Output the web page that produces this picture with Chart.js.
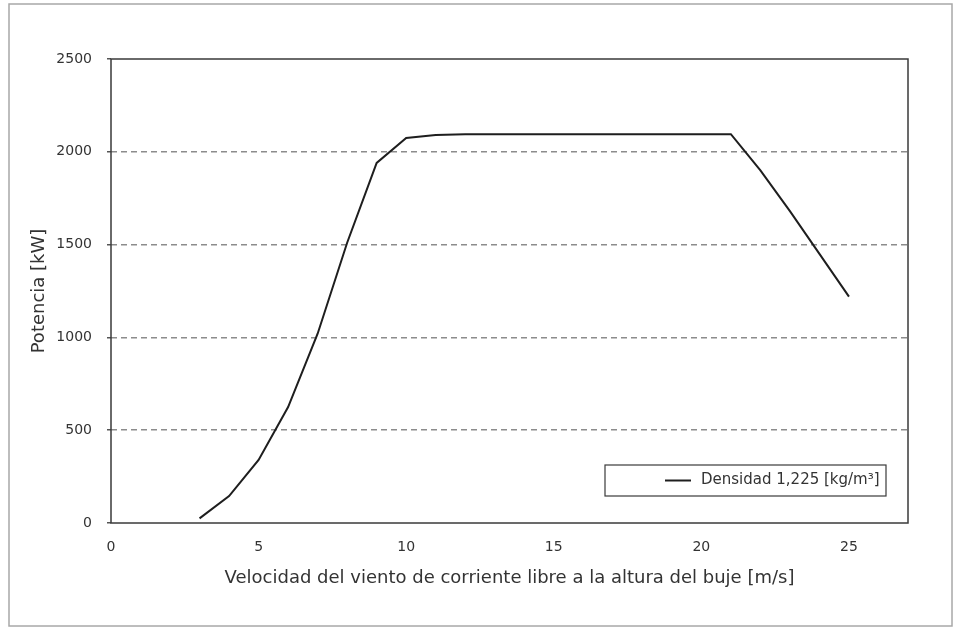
<!DOCTYPE html>
<html>
<head>
<meta charset="utf-8">
<script src="https://cdn.jsdelivr.net/npm/chart.js@4.4.0/dist/chart.umd.min.js"></script>
<style>
html, body { margin: 0; padding: 0; background: #fff; }
#wrap { width: 959px; height: 628px; }
</style>
</head>
<body>
<div id="wrap"><canvas id="powerChart" width="959" height="628"></canvas></div>
<script>
// Wind speed [m/s] and power [kW]
const speeds = [3, 4, 5, 6, 7, 8, 9, 10, 11, 12, 13, 14, 15, 16, 17, 18, 19, 20, 21, 22, 23, 24, 25];
const power = [25, 145, 340, 625, 1020, 1510, 1940, 2075, 2090, 2094, 2095, 2095, 2095, 2095, 2095, 2095, 2095, 2095, 2095, 1900, 1680, 1450, 1220];
const xTicks = [0, 5, 10, 15, 20, 25];
const yTicks = [0, 500, 1000, 1500, 2000, 2500];
const seriesLabel = 'Densidad 1,225 [kg/m³]';

const FONT = "'DejaVu Sans', sans-serif";

// white background + light outer frame + dark plot frame
const framePlugin = {
  id: 'frames',
  beforeDraw(chart) {
    const c = chart.ctx;
    c.save();
    c.fillStyle = '#fff';
    c.fillRect(0, 0, chart.width, chart.height);
    c.strokeStyle = '#a8a8a8';
    c.lineWidth = 1.5;
    c.strokeRect(9, 4, 943, 622);
    c.restore();
  },
  afterDatasetsDraw(chart) {
    const a = chart.chartArea;
    const c = chart.ctx;
    c.save();
    c.strokeStyle = '#3a3a3a';
    c.lineWidth = 1.5;
    c.strokeRect(a.left, a.top, a.right - a.left, a.bottom - a.top);
    c.restore();
  }
};

// legend box inside the plot, bottom right
const innerLegend = {
  id: 'innerLegend',
  afterDraw(chart) {
    const c = chart.ctx;
    const ds = chart.data.datasets[0];
    const box = { x: 605, y: 465, w: 281, h: 31 };
    c.save();
    c.fillStyle = '#fff';
    c.fillRect(box.x, box.y, box.w, box.h);
    c.strokeStyle = '#3a3a3a';
    c.lineWidth = 1.2;
    c.strokeRect(box.x, box.y, box.w, box.h);
    const midY = box.y + box.h / 2;
    c.strokeStyle = ds.borderColor;
    c.lineWidth = 2;
    c.beginPath();
    c.moveTo(box.x + 60, midY);
    c.lineTo(box.x + 86, midY);
    c.stroke();
    c.fillStyle = '#333';
    c.font = '15px ' + FONT;
    c.textBaseline = 'middle';
    c.textAlign = 'left';
    c.fillText(ds.label, box.x + 96, midY);
    c.restore();
  }
};

const ctx = document.getElementById('powerChart').getContext('2d');
new Chart(ctx, {
  type: 'line',
  data: {
    datasets: [{
      label: seriesLabel,
      data: speeds.map((s, i) => ({ x: s, y: power[i] })),
      borderColor: '#1e1e1e',
      borderWidth: 2,
      pointRadius: 0,
      fill: false,
      tension: 0
    }]
  },
  options: {
    responsive: false,
    animation: false,
    layout: { padding: { left: 0, right: 51, top: 59, bottom: 0 } },
    plugins: {
      legend: { display: false },
      tooltip: { enabled: false }
    },
    scales: {
      x: {
        type: 'linear',
        min: 0,
        max: 27,
        afterBuildTicks: (scale) => {
          scale.ticks = xTicks.map(v => ({ value: v }));
        },
        afterFit: (scale) => { scale.height = 105; },
        grid: { display: false, drawTicks: false },
        border: { display: false },
        ticks: {
          color: '#333',
          font: { family: FONT, size: 14 },
          padding: 16,
          maxRotation: 0,
          callback: (v) => String(v)
        },
        title: {
          display: true,
          text: 'Velocidad del viento de corriente libre a la altura del buje [m/s]',
          color: '#333',
          font: { family: FONT, size: 18 },
          padding: { top: 0, bottom: 39 }
        }
      },
      y: {
        min: 0,
        max: 2500,
        afterBuildTicks: (scale) => {
          scale.ticks = yTicks.map(v => ({ value: v }));
        },
        afterFit: (scale) => { scale.width = 111; },
        grid: {
          color: (c) => (c.tick && (c.tick.value === 0 || c.tick.value === 2500)) ? 'rgba(0,0,0,0)' : '#8c8c8c',
          lineWidth: 1.5,
          drawTicks: true,
          tickLength: 4,
          tickColor: '#555',
          tickBorderDash: []
        },
        border: { display: false, dash: [6, 4] },
        ticks: {
          color: '#333',
          font: { family: FONT, size: 14 },
          padding: 15,
          callback: (v) => String(v)
        },
        title: {
          display: true,
          text: 'Potencia [kW]',
          color: '#333',
          font: { family: FONT, size: 18 },
          padding: { top: 29, bottom: 0 }
        }
      }
    }
  },
  plugins: [framePlugin, innerLegend]
});
</script>
</body>
</html>
